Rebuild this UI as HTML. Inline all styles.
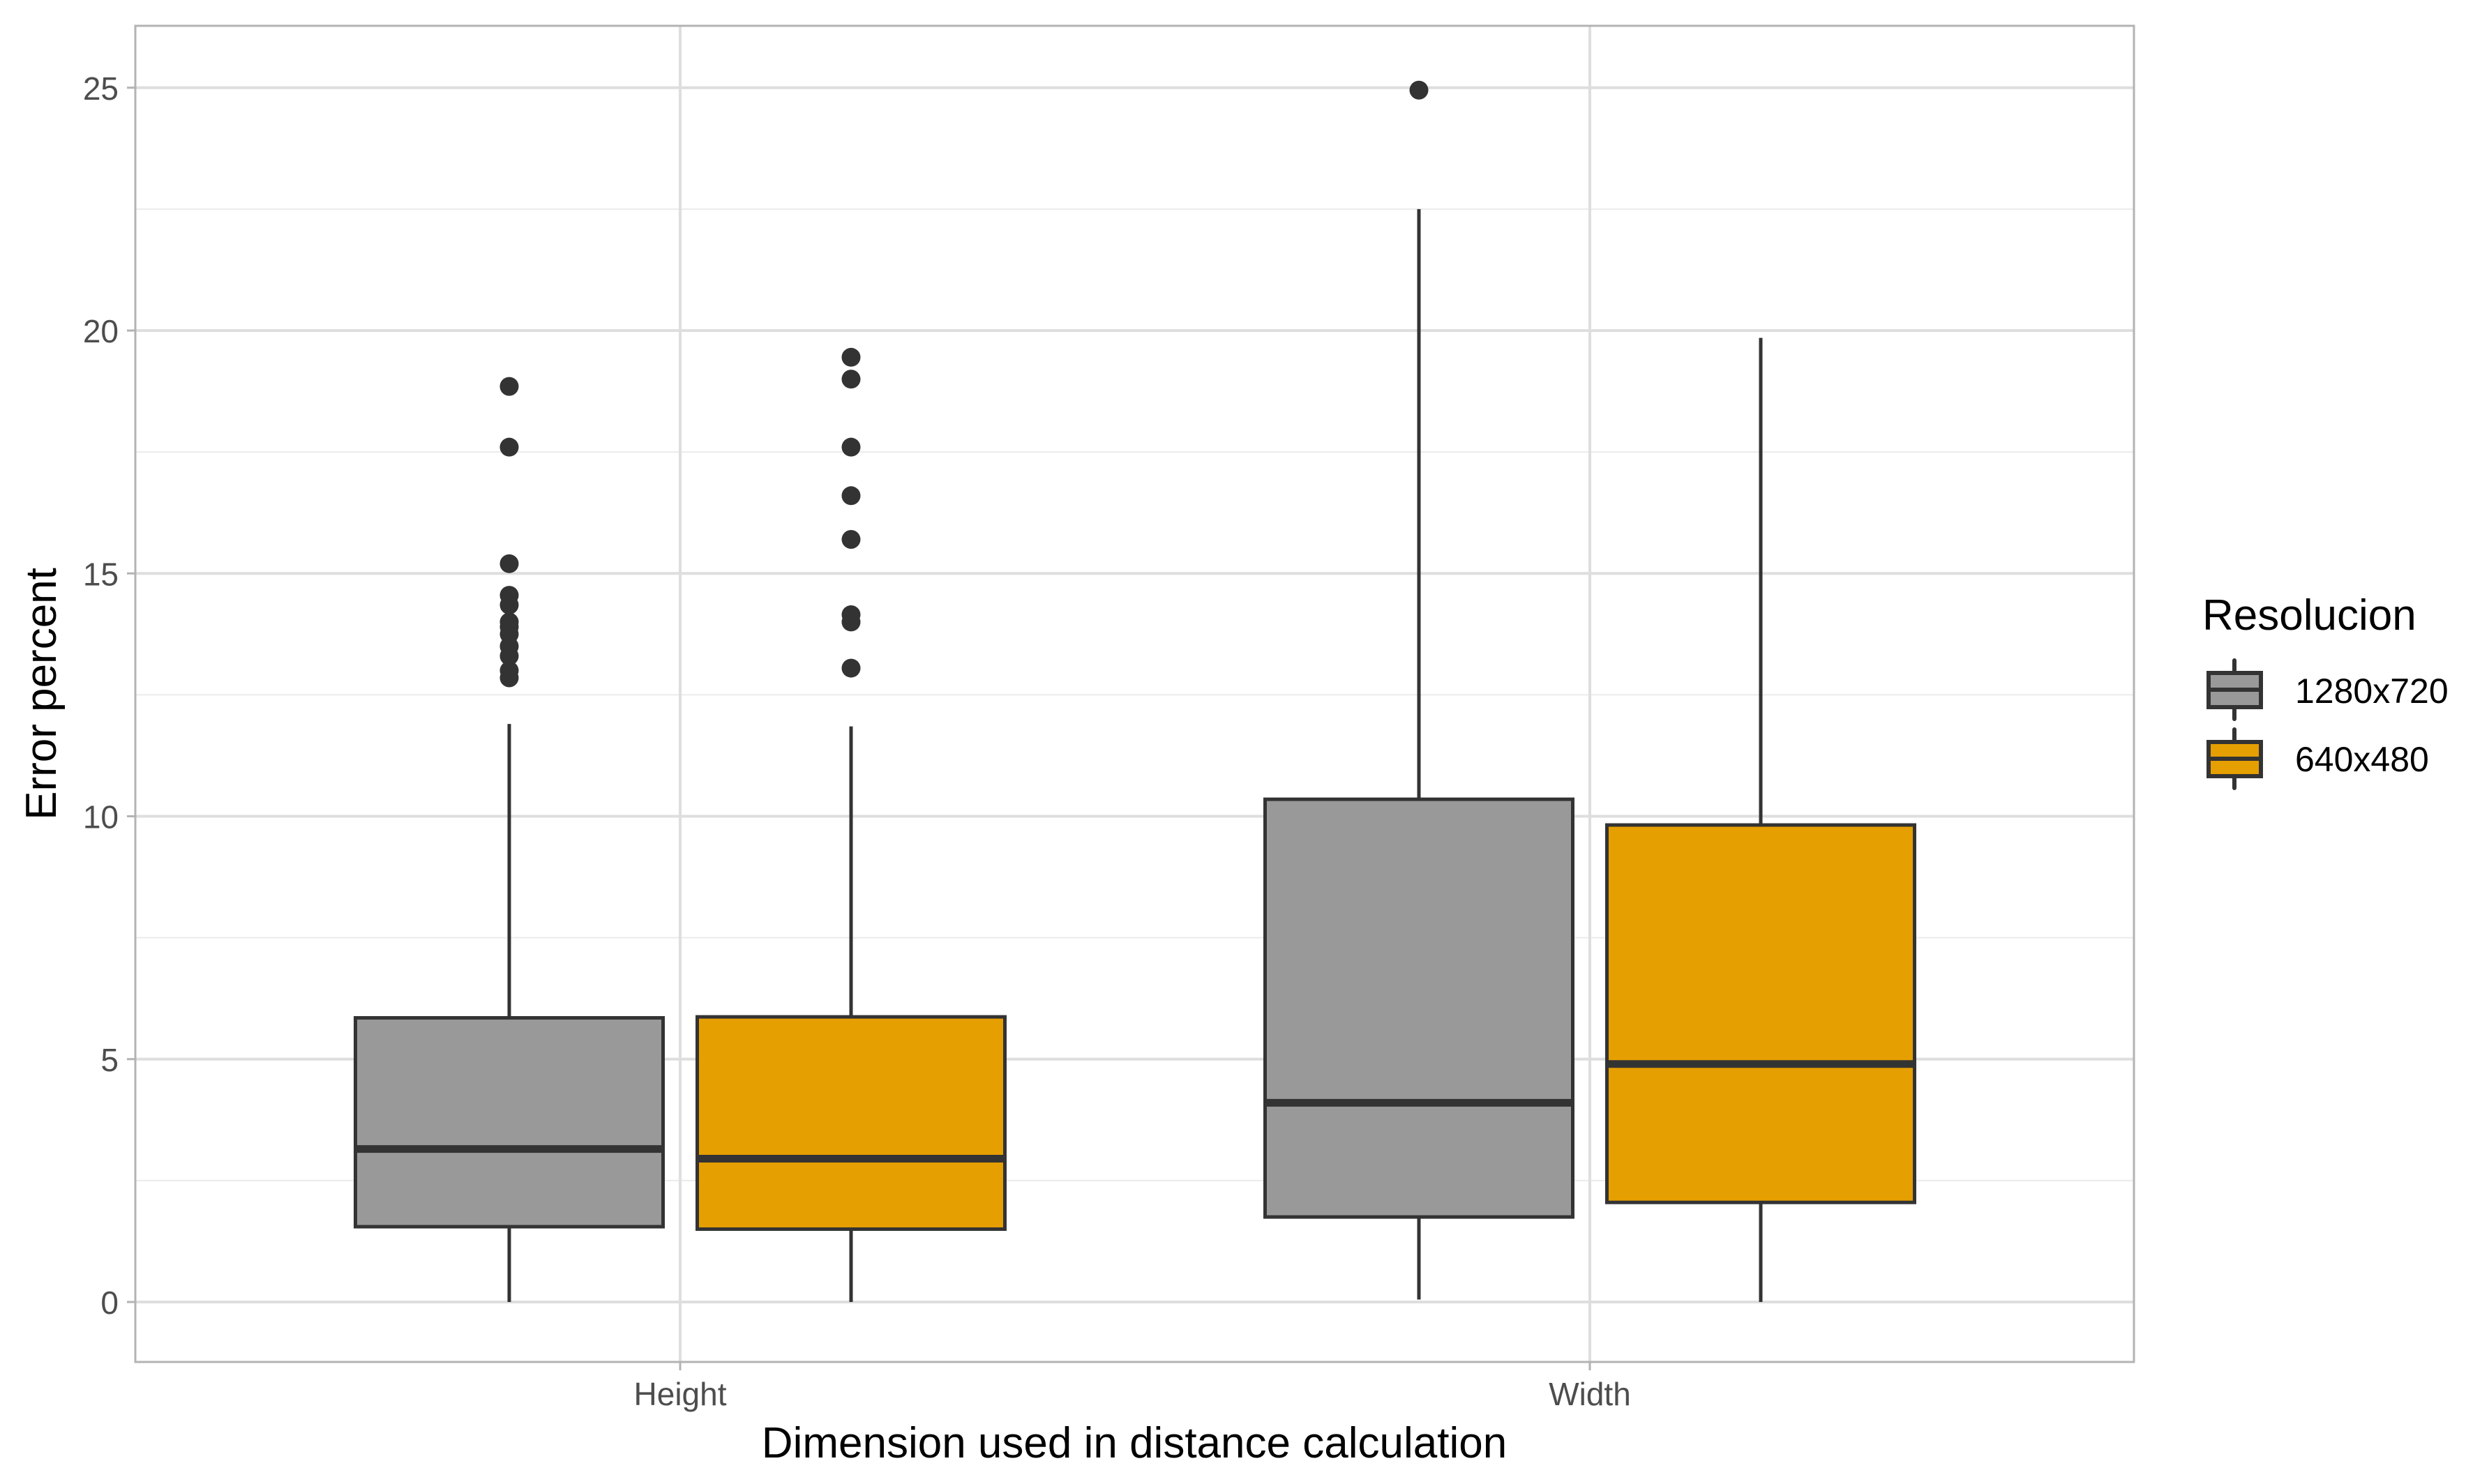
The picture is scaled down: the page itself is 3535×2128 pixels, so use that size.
<!DOCTYPE html>
<html><head><meta charset="utf-8"><style>
html,body{margin:0;padding:0;background:#fff;}
svg{display:block;font-family:"Liberation Sans",Arial,sans-serif;}
</style></head><body>
<svg id="chart" width="3535" height="2128" viewBox="0 0 3535 2128" xmlns="http://www.w3.org/2000/svg">
<rect x="0" y="0" width="3535" height="2128" fill="#fff"/>
<g id="grid"></g>
<g id="marks"></g>
<rect x="194" y="37" width="2865" height="1916" fill="none" stroke="#b3b3b3" stroke-width="3"/>
<g id="axes"></g>
<text x="1626" y="2090" font-size="62" text-anchor="middle" fill="#000">Dimension used in distance calculation</text>
<text transform="translate(80,995) rotate(-90)" font-size="62" text-anchor="middle" fill="#000">Error percent</text>
<g>
<text x="3157" y="903" font-size="62" fill="#000">Resolucion</text>
<g>
<line x1="3203" y1="947" x2="3203" y2="1031" stroke="#333" stroke-width="6" stroke-linecap="round"/>
<rect x="3166" y="965" width="75" height="49" fill="#999999" stroke="#333" stroke-width="6"/>
<line x1="3166" y1="989" x2="3241" y2="989" stroke="#333" stroke-width="6"/>
<text x="3290" y="1008" font-size="50" fill="#000">1280x720</text>
</g>
<g>
<line x1="3203" y1="1046" x2="3203" y2="1130" stroke="#333" stroke-width="6" stroke-linecap="round"/>
<rect x="3166" y="1064" width="75" height="49" fill="#E69F00" stroke="#333" stroke-width="6"/>
<line x1="3166" y1="1088" x2="3241" y2="1088" stroke="#333" stroke-width="6"/>
<text x="3290" y="1106" font-size="50" fill="#000">640x480</text>
</g>
</g>
</svg>
<script>
const categories = ["Height", "Width"];
const groups = ["1280x720", "640x480"];
const groupColors = ["#999999", "#E69F00"];
const lowerWhisker = [[0, 0], [0.05, 0]];
const q1 = [[1.55, 1.5], [1.75, 2.05]];
const median = [[3.15, 2.95], [4.1, 4.9]];
const q3 = [[5.85, 5.87], [10.35, 9.82]];
const upperWhisker = [[11.9, 11.85], [22.5, 19.85]];
const outliers = [
  [[12.85, 13.0, 13.3, 13.5, 13.75, 13.9, 14.0, 14.35, 14.55, 15.2, 17.6, 18.85],
   [13.05, 14.0, 14.15, 15.7, 16.6, 17.6, 19.0, 19.45]],
  [[24.95], []]
];
const yTicks = [0, 5, 10, 15, 20, 25];
const yMinor = [2.5, 7.5, 12.5, 17.5, 22.5];

const NS = "http://www.w3.org/2000/svg";
const PL = 194, PR = 3059, PT = 37, PB = 1953;
function yScale(v) { return 1867 - v * 69.65; }
function xScale(i) { return 975 + i * 1304; }
const dodge = 245, boxW = 441;
function mk(tag, attrs, parent) {
  const e = document.createElementNS(NS, tag);
  for (const k in attrs) e.setAttribute(k, attrs[k]);
  parent.appendChild(e);
  return e;
}
const grid = document.getElementById("grid");
const marks = document.getElementById("marks");
const axes = document.getElementById("axes");

yMinor.forEach(v => {
  const l = mk("line", {x1: PL, x2: PR, y1: yScale(v), y2: yScale(v), stroke: "#ebebeb", "stroke-width": 2}, grid);
  
  
});
yTicks.forEach(v => {
  const l = mk("line", {x1: PL, x2: PR, y1: yScale(v), y2: yScale(v), stroke: "#dedede", "stroke-width": 4}, grid);
  
  
  const t = mk("line", {x1: PL - 12, x2: PL, y1: yScale(v), y2: yScale(v), stroke: "#b3b3b3", "stroke-width": 3}, axes);
  
  
  const tx = mk("text", {x: PL - 24, y: yScale(v) + 17, "font-size": 46, "text-anchor": "end", fill: "#4d4d4d"}, axes);
  tx.textContent = v;
  
  
});
categories.forEach((c, i) => {
  const l = mk("line", {x1: xScale(i), x2: xScale(i), y1: PT, y2: PB, stroke: "#dedede", "stroke-width": 4}, grid);
  
  
  const t = mk("line", {x1: xScale(i), x2: xScale(i), y1: PB, y2: PB + 12, stroke: "#b3b3b3", "stroke-width": 3}, axes);
  
  
  const tx = mk("text", {x: xScale(i), y: PB + 62, "font-size": 46, "text-anchor": "middle", fill: "#4d4d4d"}, axes);
  tx.textContent = c;
  
  
});

categories.forEach((c, i) => {
  groups.forEach((g, j) => {
    const cx = xScale(i) + (j === 0 ? -dodge : dodge);
    const grp = mk("g", {}, marks);
    
    
    const w1 = mk("line", {x1: cx, x2: cx, y1: yScale(q3[i][j]), y2: yScale(upperWhisker[i][j]), stroke: "#333", "stroke-width": 5}, grp);
    
    
    const w2 = mk("line", {x1: cx, x2: cx, y1: yScale(q1[i][j]), y2: yScale(lowerWhisker[i][j]), stroke: "#333", "stroke-width": 5}, grp);
    
    
    const r = mk("rect", {x: cx - boxW / 2, y: yScale(q3[i][j]), width: boxW, height: yScale(q1[i][j]) - yScale(q3[i][j]), fill: groupColors[j], stroke: "#333", "stroke-width": 5}, grp);
    
    
    const m = mk("line", {x1: cx - boxW / 2, x2: cx + boxW / 2, y1: yScale(median[i][j]), y2: yScale(median[i][j]), stroke: "#333", "stroke-width": 11}, grp);
    
    
    outliers[i][j].forEach(v => {
      const p = mk("circle", {cx: cx, cy: yScale(v), r: 13.5, fill: "#333"}, grp);
      
      
    });
  });
});
</script>
</body></html>
